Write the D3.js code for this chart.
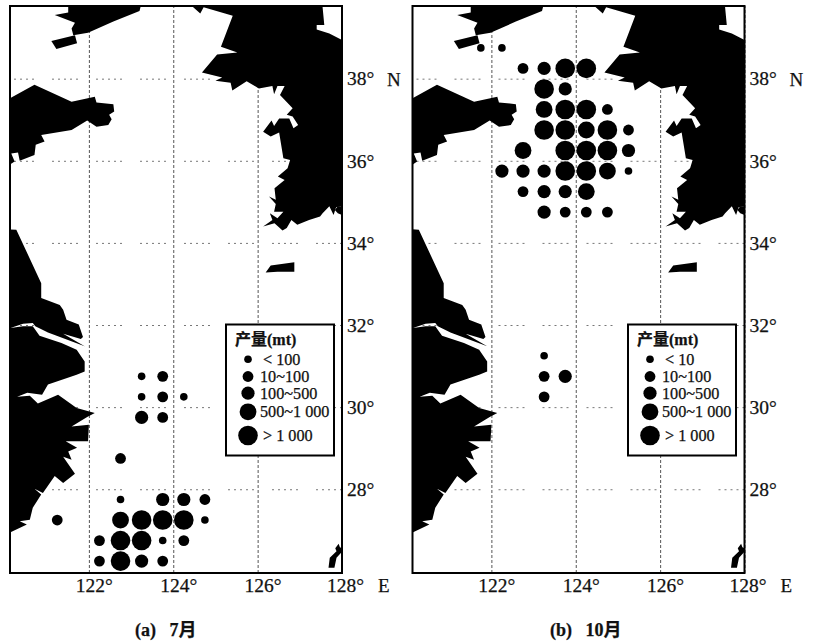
<!DOCTYPE html>
<html>
<head>
<meta charset="utf-8">
<script src="https://cdn.jsdelivr.net/npm/d3@7"></script>
<style>
	body { margin: 0; background: #fff; }
	text { font-family: "Liberation Serif", "Noto Sans CJK SC", serif; fill: #111; stroke: #111; stroke-width: 0.25; }
	.tick text { font-size: 19.5px; }
	.xgrid .tick line { stroke: #555; stroke-width: 1; stroke-dasharray: 3 2; }
	.ygrid .tick line { stroke: #777; stroke-width: 1; stroke-dasharray: 2 4 2 4 2 4 2 4 2 18; }
	.domain { display: none; }
</style>
</head>
<body>
<svg width="816" height="641"></svg>
<script>
// tick labels
const lonTicks = [122, 124, 126, 128];
const latTicks = [28, 30, 32, 34, 36, 38];

// coast outlines, [lon, lat]
const liaodong = [[121.51,39.77],[121.51,39.61],[121.19,39.55],[121.67,39.36],[121.59,39.22],[121.63,39.06],[121.98,39.12],[122.58,39.39],[123.20,39.65],[123.23,39.77]];
const liaodongIsland = [[121.11,38.92],[121.67,39.06],[121.72,38.86],[121.23,38.72]];
const korea = [[124.44,39.77],[124.64,39.59],[124.72,39.74],[125.41,39.53],[125.13,38.78],[125.52,38.64],[125.04,38.59],[124.68,38.15],[125.16,38.03],[125.00,37.95],[125.36,37.90],[125.40,37.71],[125.74,37.94],[126.03,37.76],[126.35,37.82],[126.39,37.62],[126.47,37.82],[126.64,37.82],[126.53,37.60],[126.83,37.28],[126.69,37.12],[126.83,37.08],[126.96,36.87],[126.85,36.79],[126.75,37.03],[126.51,37.03],[126.39,36.85],[126.33,36.98],[126.13,36.71],[126.31,36.59],[126.51,36.69],[126.61,36.06],[126.77,36.02],[126.71,35.82],[126.48,35.62],[126.64,35.53],[126.40,35.33],[126.43,35.05],[126.27,35.13],[126.43,34.95],[126.39,34.76],[126.61,34.76],[126.47,34.60],[126.29,34.72],[126.35,34.56],[126.13,34.40],[126.40,34.48],[126.59,34.30],[126.69,34.36],[126.80,34.56],[126.94,34.44],[127.22,34.56],[127.48,34.64],[127.54,34.72],[127.70,34.89],[127.80,34.68],[127.86,34.87],[128,34.90],[128,38.94],[127.70,39.10],[127.40,39.20],[127.40,39.31],[127.58,39.31],[127.54,39.74],[127.54,39.77]];
const koreaIsland = [[127.83,34.80],[127.90,34.89],[128,34.89],[128,34.68],[127.90,34.72]];
const shandong = [[120.12,37.52],[120.71,37.85],[121.59,37.44],[122.14,37.56],[122.18,37.42],[122.58,37.38],[122.60,37.20],[122.48,37.12],[122.54,37.01],[122.46,36.87],[122.18,36.83],[121.96,36.98],[121.59,36.75],[120.87,36.63],[120.95,36.47],[120.74,36.39],[120.71,36.14],[120.36,36.00],[120.32,36.20],[120.16,36.18],[120.24,35.98],[120.12,35.90]];
const eastCoast = [[120.12,34.33],[120.28,34.32],[120.87,33.02],[120.87,32.66],[121.31,32.49],[121.39,32.37],[121.47,32.13],[121.76,32.01],[121.86,31.71],[121.81,31.66],[121.39,31.79],[121.90,31.48],[121.03,31.82],[120.73,31.97],[120.67,32.05],[120.44,32.03],[120.14,31.93],[120.44,31.97],[120.67,31.97],[120.83,31.74],[121.35,31.56],[121.71,31.40],[121.90,31.11],[121.90,30.87],[121.71,30.79],[121.03,30.55],[120.89,30.30],[120.54,30.35],[120.30,30.25],[120.60,30.28],[120.79,30.09],[121.27,30.30],[121.71,29.98],[122.14,29.86],[121.96,29.76],[121.59,29.53],[122.00,29.57],[121.98,29.17],[121.45,29.17],[121.72,29.01],[121.51,28.92],[121.59,28.72],[121.39,28.79],[121.67,28.38],[121.39,28.15],[121.19,28.32],[120.91,27.91],[120.71,28.01],[120.87,27.87],[120.67,27.55],[120.60,27.26],[120.36,27.22],[120.53,27.14],[120.12,26.94]];
const jejuIsland = [[126.19,33.28],[126.31,33.45],[126.87,33.53],[126.87,33.30],[126.47,33.30]];
const kyushuTip = [[127.68,26.09],[127.71,26.33],[127.87,26.49],[127.84,26.56],[127.92,26.67],[127.95,26.59],[128,26.56],[128,26.48],[127.87,26.33],[127.82,26.09]];
const landParts = [liaodong, liaodongIsland, korea, koreaIsland, shandong, eastCoast, jejuIsland, kyushuTip];

// catch per fishing square, [lon, lat, class 0-4]
const julyCatch = [
	[123.25,30.75,0],[123.75,30.75,1],
	[123.25,30.25,0],[123.75,30.25,1],[124.25,30.25,0],
	[123.25,29.75,2],[123.75,29.75,1],
	[122.75,28.75,1],
	[122.75,27.75,0],[123.75,27.75,2],[124.25,27.75,2],[124.75,27.75,1],
	[121.25,27.25,1],[122.75,27.25,3],[123.25,27.25,4],[123.75,27.25,4],[124.25,27.25,4],[124.75,27.25,0],
	[122.25,26.75,1],[122.75,26.75,4],[123.25,26.75,4],[123.75,26.75,0],[124.25,26.75,1],
	[122.25,26.25,1],[122.75,26.25,4],[123.25,26.25,2],[123.75,26.25,1]
];
const octoberCatch = [
	[121.75,38.75,0],[122.25,38.75,0],
	[122.75,38.25,1],[123.25,38.25,2],[123.75,38.25,4],[124.25,38.25,4],
	[123.25,37.75,4],[123.75,37.75,2],
	[123.25,37.25,3],[123.75,37.25,4],[124.25,37.25,4],[124.75,37.25,1],
	[123.25,36.75,4],[123.75,36.75,4],[124.25,36.75,3],[124.75,36.75,4],[125.25,36.75,1],
	[122.75,36.25,3],[123.75,36.25,4],[124.25,36.25,4],[124.75,36.25,4],[125.25,36.25,2],
	[122.25,35.75,2],[122.75,35.75,2],[123.25,35.75,2],[123.75,35.75,4],[124.25,35.75,4],[124.75,35.75,3],[125.25,35.75,0],
	[122.75,35.25,1],[123.25,35.25,2],[123.75,35.25,2],[124.25,35.25,3],
	[123.25,34.75,2],[123.75,34.75,1],[124.25,34.75,1],[124.75,34.75,1],
	[123.25,31.25,0],[123.25,30.75,1],[123.75,30.75,2],[123.25,30.25,1]
];

// legend
const legendTitle = '产量(mt)';
const julyLegend = ['< 100', '10~100', '100~500', '500~1 000', '> 1 000'];
const octoberLegend = ['< 10', '10~100', '100~500', '500~1 000', '> 1 000'];

const svg = d3.select('svg');
const innerWidth = 332;
const innerHeight = 567;

const xScale = d3.scaleLinear().domain([120.13, 128]).range([0, innerWidth]);
const yScale = d3.scaleLinear().domain([25.96, 39.77]).range([innerHeight, 0]);
const radius = d3.scaleOrdinal().domain([0, 1, 2, 3, 4]).range([3.8, 5.4, 6.6, 8.4, 9.8]);

const landLine = d3.line()
	.x(d => xScale(d[0]))
	.y(d => yScale(d[1]));

const legendRows = [
	{y: 34.7, labelX: 37},
	{y: 52, labelX: 34},
	{y: 68.7, labelX: 34},
	{y: 87.3, labelX: 34},
	{y: 111, labelX: 37}
];

const drawPanel = (left, catchData, legendLabels, legendLeft, caption, captionX) => {
	const g = svg.append('g')
		.attr('transform', `translate(${left}, 6)`);

	g.append('clipPath').attr('id', `clip${left}`)
		.append('rect')
		.attr('width', innerWidth)
		.attr('height', innerHeight);

	const xAxisG = g.append('g')
		.attr('class', 'xgrid')
		.attr('transform', `translate(0, ${innerHeight})`)
		.call(d3.axisBottom(xScale).tickValues(lonTicks).tickSize(-innerHeight).tickPadding(5).tickFormat(d => d + '°'));
	xAxisG.selectAll('.tick text').attr('dx', d => d === 128 ? 3 : 5).attr('y', 5);

	const yAxisG = g.append('g')
		.attr('class', 'ygrid')
		.attr('transform', `translate(${innerWidth}, 0)`)
		.call(d3.axisRight(yScale).tickValues(latTicks).tickSize(-innerWidth).tickPadding(5).tickFormat(d => d + '°'));
	yAxisG.selectAll('.tick text').attr('x', 5);

	g.append('g')
		.attr('clip-path', `url(#clip${left})`)
		.selectAll('path')
		.data(landParts)
		.join('path')
		.attr('d', d => landLine(d) + 'Z')
		.attr('fill', '#000');

	g.append('rect')
		.attr('width', innerWidth)
		.attr('height', innerHeight)
		.attr('fill', 'none')
		.attr('stroke', '#000')
		.attr('stroke-width', 2);

	g.selectAll('circle.catch')
		.data(catchData)
		.join('circle')
		.attr('class', 'catch')
		.attr('cx', d => xScale(d[0]))
		.attr('cy', d => yScale(d[1]))
		.attr('r', d => radius(d[2]))
		.attr('fill', '#000');

	// N and E beside the last ticks
	g.append('text')
		.text('N')
		.attr('x', innerWidth + 45)
		.attr('y', yScale(38) + 7)
		.attr('font-size', 19);

	g.append('text')
		.text('E')
		.attr('x', innerWidth + 36)
		.attr('y', innerHeight + 19)
		.attr('font-size', 19);

	const legend = svg.append('g')
		.attr('transform', `translate(${legendLeft}, 324.5)`);

	legend.append('rect')
		.attr('width', 108)
		.attr('height', 131)
		.attr('fill', '#fff')
		.attr('stroke', '#000')
		.attr('stroke-width', 2);

	legend.append('text')
		.text(legendTitle)
		.attr('x', 9)
		.attr('y', 20)
		.attr('font-size', 16)
		.attr('font-weight', 'bold');

	legendRows.forEach((row, i) => {
		legend.append('circle')
			.attr('cx', 22)
			.attr('cy', row.y)
			.attr('r', radius(i))
			.attr('fill', '#000');
		legend.append('text')
			.text(legendLabels[i])
			.attr('x', row.labelX)
			.attr('y', row.y + 5.5)
			.attr('font-size', 16.2);
	});

	svg.append('text')
		.text(caption)
		.attr('x', captionX)
		.attr('y', 636)
		.attr('font-size', 18)
		.attr('font-weight', 'bold');
};

drawPanel(10, julyCatch, julyLegend, 226, '(a)\u00a0\u00a0\u00a07月', 135);
drawPanel(412.5, octoberCatch, octoberLegend, 628, '(b)\u00a0\u00a0\u00a010月', 550);
</script>
</body>
</html>
